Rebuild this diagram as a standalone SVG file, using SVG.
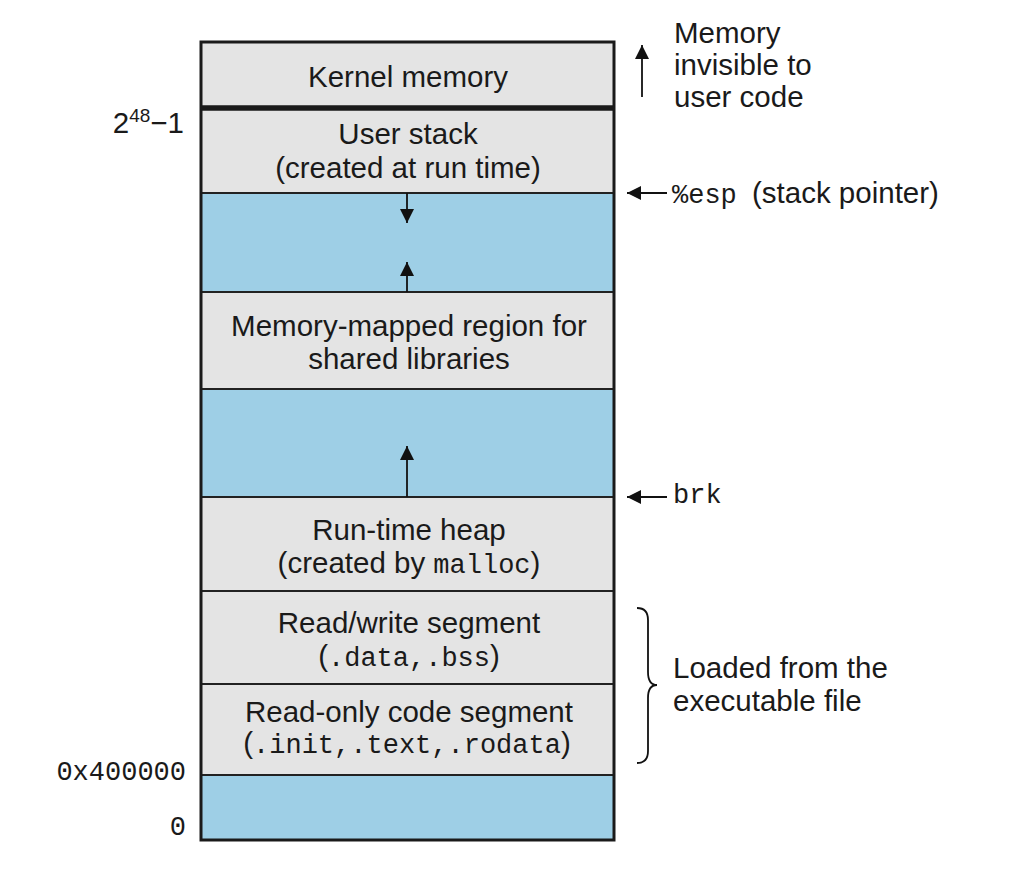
<svg xmlns="http://www.w3.org/2000/svg" width="1020" height="892" viewBox="0 0 1020 892">
<defs>
<style>
.t{font-family:"Liberation Sans",Arial,sans-serif;font-size:29.5px;fill:#1a1a1a}
.m{font-family:"Liberation Mono","Courier New",monospace;font-size:27px}
.c{text-anchor:middle}
.g{fill:#e4e4e4}
.b{fill:#9ecfe6}
.sep{stroke:#222;stroke-width:2.2}
.ln{stroke:#111;stroke-width:1.8;fill:none}
</style>
<marker id="ah" viewBox="0 0 10 10" refX="10" refY="5" markerWidth="14" markerHeight="14" markerUnits="userSpaceOnUse" orient="auto">
<path d="M0,0 L10,5 L0,10 z" fill="#111"/>
</marker>
</defs>
<rect width="1020" height="892" fill="#fff"/>

<g id="kernel"><rect class="g" x="201" y="42" width="413" height="66"/><text class="t c" x="408" y="87">Kernel memory</text></g>
<g id="userstack"><rect class="g" x="201" y="108" width="413" height="85"/><text class="t c" x="408" y="144">User stack</text><text class="t c" x="408" y="178">(created at run time)</text></g>
<g id="gap1"><rect class="b" x="201" y="193" width="413" height="99"/></g>
<g id="mmap"><rect class="g" x="201" y="292" width="413" height="97"/><text class="t c" x="409" y="336">Memory-mapped region for</text><text class="t c" x="409" y="369">shared libraries</text></g>
<g id="gap2"><rect class="b" x="201" y="389" width="413" height="108"/></g>
<g id="heap"><rect class="g" x="201" y="497" width="413" height="94"/><text class="t c" x="409" y="540">Run-time heap</text><text class="t c" x="409" y="573">(created by <tspan class="m">malloc</tspan>)</text></g>
<g id="rw"><rect class="g" x="201" y="591" width="413" height="93"/><text class="t c" x="409" y="633">Read/write segment</text><text class="t c" x="409" y="666">(<tspan class="m">.data,.bss</tspan>)</text></g>
<g id="ro"><rect class="g" x="201" y="684" width="413" height="91"/><text class="t c" x="409" y="722">Read-only code segment</text><text class="t c" x="407" y="753">(<tspan class="m">.init,.text,.rodata</tspan>)</text></g>
<g id="gap3"><rect class="b" x="201" y="775" width="413" height="65"/></g>

<g id="separators">
<line class="sep" x1="201" y1="193" x2="614" y2="193"/>
<line class="sep" x1="201" y1="292" x2="614" y2="292"/>
<line class="sep" x1="201" y1="389" x2="614" y2="389"/>
<line class="sep" x1="201" y1="497" x2="614" y2="497"/>
<line class="sep" x1="201" y1="591" x2="614" y2="591"/>
<line class="sep" x1="201" y1="684" x2="614" y2="684"/>
<line class="sep" x1="201" y1="775" x2="614" y2="775"/>
<line x1="201" y1="108" x2="614" y2="108" stroke="#1a1a1a" stroke-width="5.5"/>
<rect x="201" y="42" width="413" height="798" fill="none" stroke="#1a1a1a" stroke-width="3"/>
</g>

<g id="addresses">
<text class="t" x="184" y="133" text-anchor="end">2<tspan font-size="19" dy="-11">48</tspan><tspan dy="11">−1</tspan></text>
<text class="t m" x="186" y="780" text-anchor="end">0x400000</text>
<text class="t m" x="186" y="835" text-anchor="end">0</text>
</g>

<g id="connectors">
<line class="ln" x1="407" y1="193" x2="407" y2="223" marker-end="url(#ah)"/>
<line class="ln" x1="407" y1="292" x2="407" y2="262" marker-end="url(#ah)"/>
<line class="ln" x1="407" y1="497" x2="407" y2="446" marker-end="url(#ah)"/>
<line class="ln" x1="642" y1="97" x2="642" y2="45" marker-end="url(#ah)"/>
<line class="ln" x1="667" y1="193" x2="627" y2="193" marker-end="url(#ah)"/>
<line class="ln" x1="667" y1="497" x2="627" y2="497" marker-end="url(#ah)"/>
<path class="ln" d="M637,608 Q648,608 648,620 L648,672 Q648,685 657,685 Q648,685 648,698 L648,751 Q648,763 637,763"/>
</g>

<g id="labels">
<text class="t" x="674" y="43">Memory</text>
<text class="t" x="674" y="75">invisible to</text>
<text class="t" x="674" y="107">user code</text>
<text class="t m" x="672" y="203">%esp</text>
<text class="t" x="752" y="203">(stack pointer)</text>
<text class="t m" x="673" y="503">brk</text>
<text class="t" x="673" y="678">Loaded from the</text>
<text class="t" x="673" y="711">executable file</text>
</g>
</svg>
